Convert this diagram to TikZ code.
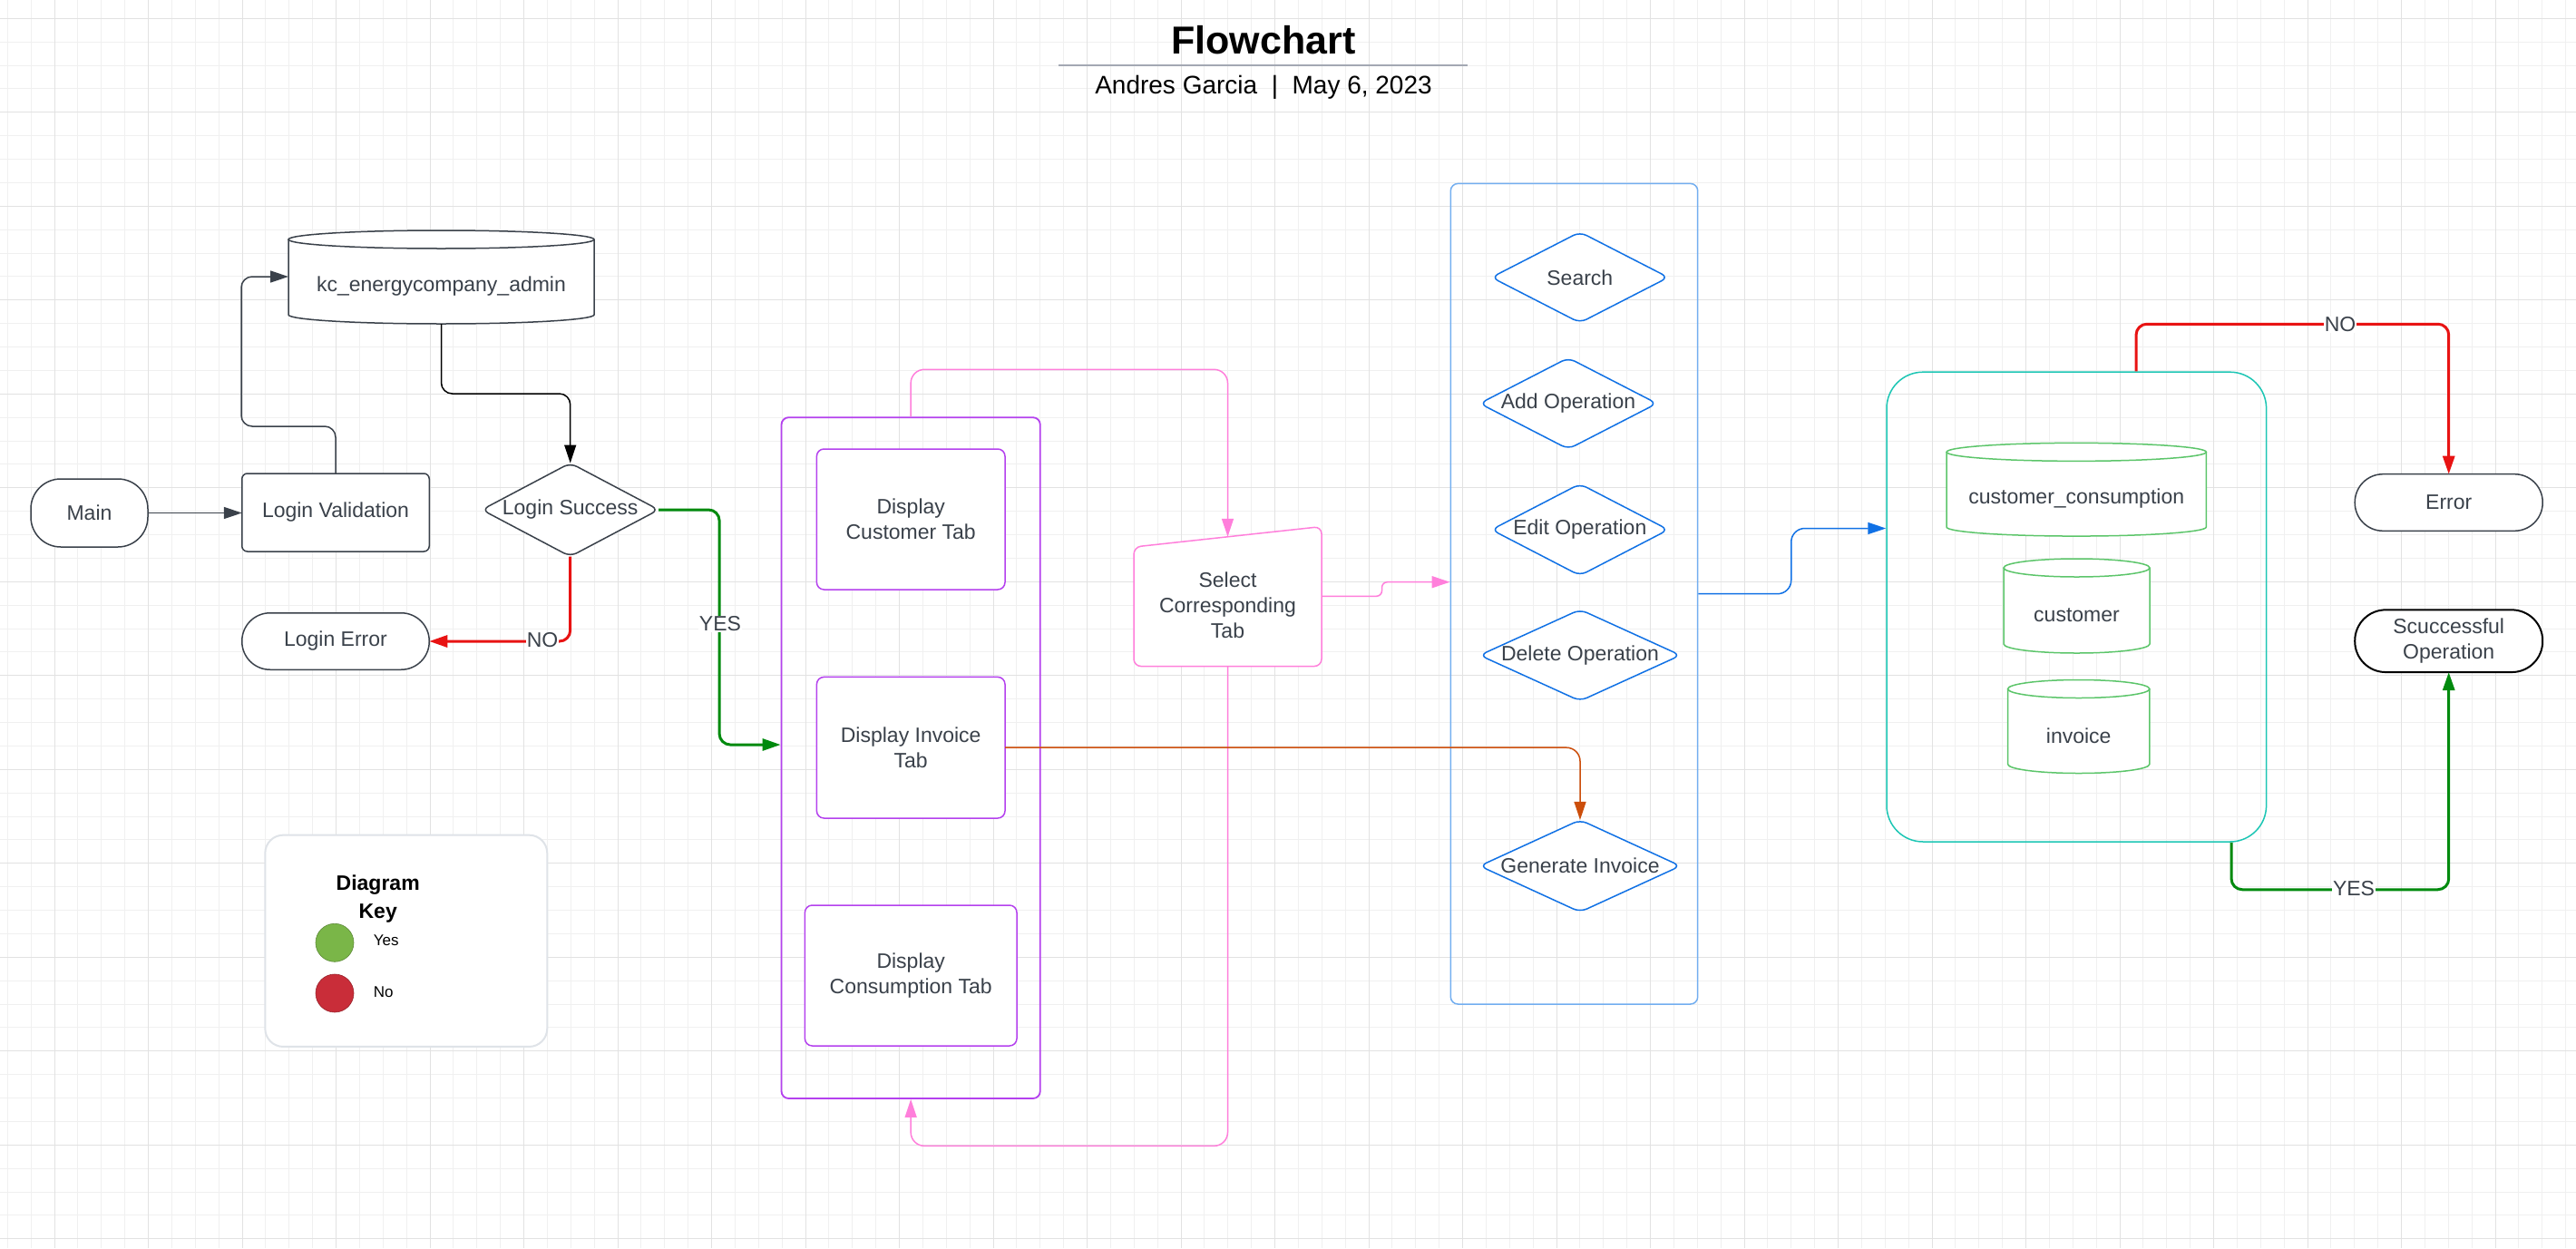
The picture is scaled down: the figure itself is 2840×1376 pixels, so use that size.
\documentclass[tikz,border=0pt]{standalone}
\usepackage{fontspec}
\setmainfont{Liberation Sans}
\usetikzlibrary{arrows.meta,calc}
\pgfdeclarelayer{gridlayer}
\pgfdeclarelayer{shapelayer}
\pgfsetlayers{gridlayer,shapelayer,main}

\definecolor{ink}{HTML}{3A414A}
\definecolor{gridminor}{HTML}{F0F0F0}
\definecolor{gridmajor}{HTML}{E2E2E2}
\definecolor{purp}{HTML}{B441EE}
\definecolor{pinkc}{HTML}{FF7FDB}
\definecolor{orng}{HTML}{CC4E0B}
\definecolor{blued}{HTML}{1071E5}
\definecolor{bluel}{HTML}{72AEF0}
\definecolor{tealc}{HTML}{1CC6B4}
\definecolor{greenc}{HTML}{5CC56A}
\definecolor{redc}{HTML}{E81313}
\definecolor{greena}{HTML}{008A0E}
\definecolor{keyg}{HTML}{7AB648}
\definecolor{keyr}{HTML}{C92D39}
\definecolor{keybox}{HTML}{DFE3E8}
\definecolor{titleline}{HTML}{A3A8B3}

\newcommand{\mkdiamond}[2]{%
  \begin{pgfonlayer}{shapelayer}
  \draw[#2, line width=1.5pt, fill=white, rounded corners=8pt]
    (#1.north) -- (#1.east) -- (#1.south) -- (#1.west) -- cycle;
  \end{pgfonlayer}}
\newcommand{\mkcyl}[4]{%
  \begin{pgfonlayer}{shapelayer}
  \fill[white] ($(#1.north west)+(0,-#4)$) -- ($(#1.south west)+(0,-#4)$)
    arc[start angle=180, end angle=0, x radius=#3, y radius=#4]
    -- ($(#1.north east)+(0,-#4)$) -- cycle;
  \draw[#2, line width=1.5pt] ($(#1.north west)+(0,-#4)$) -- ($(#1.south west)+(0,-#4)$)
    arc[start angle=180, end angle=0, x radius=#3, y radius=#4]
    -- ($(#1.north east)+(0,-#4)$);
  \draw[#2, line width=1.5pt, fill=white] ($(#1.north)+(0,-#4)$) ellipse [x radius=#3, y radius=#4];
  \end{pgfonlayer}}

\tikzset{
  lbl/.style={font=\fontsize{23}{28}\selectfont, text=ink, align=center},
  shapebox/.style={lbl, inner sep=0pt, outer sep=0pt},
  boxshape/.style={shapebox, draw=ink, fill=white, line width=1.5pt},
  tabbox/.style={shapebox, draw=purp, fill=white, line width=1.5pt, rounded corners=8pt},
  conn/.style={line width=1.5pt, rounded corners=12pt, -{Triangle[length=20pt,width=13pt]}},
  thickconn/.style={conn, line width=3pt},
  edgelbl/.style={lbl, fill=white, inner sep=1pt}
}

\begin{document}
\begin{tikzpicture}[x=1pt,y=-1pt]
\useasboundingbox (0,0) rectangle (2840,1376);
\begin{pgfonlayer}{gridlayer}
  \fill[white] (0,0) rectangle (2840,1376);
  \foreach \i in {0,...,109}{\draw[gridminor, line width=1pt] ({8.3+25.875*\i},0) -- ({8.3+25.875*\i},1376);}
  \foreach \j in {0,...,52}{\draw[gridminor, line width=1pt] (0,{20.3+25.875*\j}) -- (2840,{20.3+25.875*\j});}
  \foreach \i in {0,...,26}{\draw[gridmajor, line width=1pt] ({60.05+103.5*\i},0) -- ({60.05+103.5*\i},1376);}
  \foreach \j in {0,...,13}{\draw[gridmajor, line width=1pt] (0,{20.3+103.5*\j}) -- (2840,{20.3+103.5*\j});}
\end{pgfonlayer}

% title
\node[font=\fontsize{43}{50}\selectfont\bfseries, anchor=base, inner sep=0pt] (title) at (1393,59.3) {Flowchart};
\draw[titleline, line width=2.5pt] (1167,72) -- (1618,72);
\node[font=\fontsize{28}{34}\selectfont, anchor=base, inner sep=0pt] (subtitle) at (1393,103.3) {Andres Garcia\ \ |\ \ May 6, 2023};

% left part
\node[boxshape, rounded corners=33pt, minimum width=129pt, minimum height=75pt] (main) at (98.5,565.5) {Main};
\node[boxshape, rounded corners=6pt, minimum width=206.5pt, minimum height=86pt] (lv) at (370,565) {Login Validation};
\node[shapebox, minimum width=337pt, minimum height=83pt] (db) at (486.5,315.5) {kc\_energycompany\_admin};
\mkcyl{db}{draw=ink}{168.5}{10}
\node[shapebox, minimum width=195pt, minimum height=103pt] (ls) at (628.7,562) {Login Success};
\mkdiamond{ls}{draw=ink}
\node[boxshape, rounded corners=31pt, minimum width=206.5pt, minimum height=62.5pt] (le) at (370,707) {Login Error};

% key
\node[draw=keybox, fill=white, line width=2pt, rounded corners=20pt, minimum width=311pt, minimum height=233.3pt] (key) at (447.8,1037.3) {};
\node[font=\fontsize{23}{31}\selectfont\bfseries, align=center, inner sep=0pt] (keyt) at (416.7,991) {Diagram\\Key};
\node[circle, fill=keyg, draw=keyg!75!black, line width=0.6pt, minimum size=42pt, inner sep=0pt] (kyes) at (369,1039.3) {};
\node[circle, fill=keyr, draw=keyr!75!black, line width=0.6pt, minimum size=42pt, inner sep=0pt] (kno) at (369,1095) {};
\node[font=\fontsize{17}{20}\selectfont, anchor=west, inner sep=0pt] (kyest) at (411.7,1037) {Yes};
\node[font=\fontsize{17}{20}\selectfont, anchor=west, inner sep=0pt] (knot) at (411.7,1093.3) {No};

% tabs container
\node[draw=purp, line width=1.8pt, rounded corners=8pt, minimum width=285.3pt, minimum height=750.8pt, inner sep=0pt] (tabs) at (1004.15,835.6) {};
\node[tabbox, minimum width=207.6pt, minimum height=155pt] (dct) at (1004.2,572.5) {Display\\Customer Tab};
\node[tabbox, minimum width=207.6pt, minimum height=155.6pt] (dit) at (1004.2,824.2) {Display Invoice\\Tab};
\node[tabbox, minimum width=233.6pt, minimum height=155pt] (dcons) at (1004.2,1075.5) {Display\\Consumption Tab};

% select corresponding tab (manual input)
\node[shapebox, minimum width=207pt, minimum height=135.5pt] (sel) at (1353.5,666.8) {Select\\Corresponding\\Tab};
\begin{pgfonlayer}{shapelayer}
\draw[pinkc, line width=1.5pt, fill=white, rounded corners=8pt]
  (sel.south west) -- ($(sel.north west)+(0,4)$) -- ($(sel.north east)+(0,-18.5)$) -- (sel.south east) -- cycle;
\end{pgfonlayer}

% operations container
\node[draw=bluel, line width=1.5pt, rounded corners=8pt, minimum width=272.4pt, minimum height=904.6pt, inner sep=0pt] (ops) at (1735.5,654.7) {};
\node[shapebox, minimum width=195pt, minimum height=100pt] (search) at (1741.8,305.8) {Search};
\mkdiamond{search}{draw=blued}
\node[shapebox, minimum width=195.4pt, minimum height=100.5pt] (addop) at (1729,444.8) {Add Operation};
\mkdiamond{addop}{draw=blued}
\node[shapebox, minimum width=195pt, minimum height=101pt] (editop) at (1741.8,584) {Edit Operation};
\mkdiamond{editop}{draw=blued}
\node[shapebox, minimum width=221.4pt, minimum height=100.7pt] (delop) at (1742,722.4) {Delete Operation};
\mkdiamond{delop}{draw=blued}
\node[shapebox, minimum width=221.4pt, minimum height=101.5pt] (gen) at (1742,954.7) {Generate Invoice};
\mkdiamond{gen}{draw=blued}

% database container
\node[draw=tealc, line width=1.5pt, rounded corners=40pt, minimum width=418.6pt, minimum height=517.8pt, inner sep=0pt] (dbc) at (2289.3,669.1) {};
\node[shapebox, minimum width=286.3pt, minimum height=82.7pt] (cc) at (2289.2,549.7) {customer\_consumption};
\mkcyl{cc}{draw=greenc}{143.15}{10}
\node[shapebox, minimum width=161pt, minimum height=84pt] (cust) at (2289.5,678) {customer};
\mkcyl{cust}{draw=greenc}{80.5}{10}
\node[shapebox, minimum width=156.3pt, minimum height=83pt] (inv) at (2291.7,811) {invoice};
\mkcyl{inv}{draw=greenc}{78.15}{10}

% results
\node[boxshape, rounded corners=31pt, minimum width=207pt, minimum height=62.6pt] (err) at (2699.7,554) {Error};
\node[boxshape, draw=black, line width=2pt, rounded corners=34pt, minimum width=207pt, minimum height=68.7pt] (suc) at (2699.7,706.7) {Scuccessful\\Operation};

% connectors
\draw[conn, ink] (main.east) -- (main.east -| lv.west);
\draw[conn, ink] (lv.north) |- ($(db.west)+(-52,154.5)$) |- ($(db.west)+(0,-10.5)$);
\draw[conn, black] (db.south) -- ++(0,77) -| (ls.north);
\draw[thickconn, redc] (ls.south) |- (le.east);
\node[edgelbl] (nolbl1) at (598,706) {NO};
\draw[thickconn, greena] (ls.east) -| ($(tabs.west)+(-67.5,-14.6)$) -- ($(tabs.west)+(0,-14.6)$);
\node[edgelbl] (yeslbl1) at (794,688) {YES};
\draw[conn, pinkc, rounded corners=15pt] (tabs.north) -- ++(0,-52) -| ($(sel.north)+(0,-7.3)$);
\draw[conn, pinkc, rounded corners=15pt] (sel.south) -- ++(0,528.8) -| (tabs.south);
\draw[conn, pinkc, rounded corners=6pt] ($(sel.east)+(0,-9.5)$) -- ++(66.5,0) |- ($(ops.west)+(0,-13)$);
\draw[conn, orng, rounded corners=15pt] (dit.east) -| (gen.north);
\draw[conn, blued, rounded corners=15pt] (ops.east) -- ++(102.3,0) |- ($(dbc.west)+(0,-86.6)$);
\draw[thickconn, redc] ($(dbc.north)+(65.7,0)$) -- ++(0,-52.2) -| (err.north);
\node[edgelbl] (nolbl2) at (2580,358) {NO};
\draw[thickconn, greena] ($(dbc.south)+(170.7,0)$) -- ++(0,52) -| (suc.south);
\node[edgelbl] (yeslbl2) at (2595,980) {YES};
\end{tikzpicture}
\end{document}
